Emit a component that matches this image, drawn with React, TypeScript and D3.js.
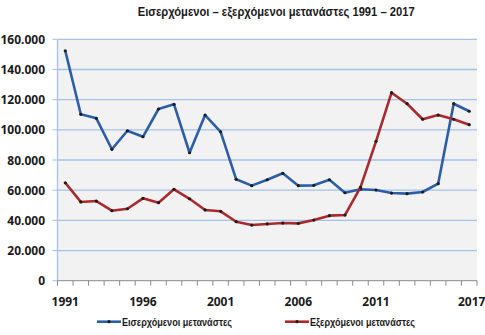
import React from "react";
import * as d3 from "d3";

const years: number[] = [1991,1992,1993,1994,1995,1996,1997,1998,1999,2000,2001,2002,2003,2004,2005,2006,2007,2008,2009,2010,2011,2012,2013,2014,2015,2016,2017];
const incoming: number[] = [152400,110300,107600,87100,99400,95400,113800,116900,84800,109800,98700,67200,63000,66900,71200,63000,63200,66900,58300,60600,60100,58100,57700,58800,64300,117300,112300];
const outgoing: number[] = [64900,52200,52800,46400,47700,54600,51700,60600,54300,46900,46000,39100,36900,37600,38200,38000,40200,43100,43500,61900,92400,124600,117300,107000,109800,107000,103400];
const yTicks: number[] = [0,20000,40000,60000,80000,100000,120000,140000,160000];
const xLabelYears: number[] = [1991,1996,2001,2006,2011,2017];
const title = "Εισερχόμενοι – εξερχόμενοι μετανάστες 1991 – 2017";
const seriesNames = ["Εισερχόμενοι μετανάστες", "Εξερχόμενοι μετανάστες"];

const W = 485, H = 335;
const left = 57.5, right = 477, top = 39.3, bottom = 280.7;
const BLUE = "#2C5DA8";
const RED = "#A82A2C";
const GRID = "#A3C2E8";
const FONT = "'Noto Sans', 'DejaVu Sans', sans-serif";
const GFONT = "'Liberation Sans', 'DejaVu Sans', sans-serif";

export default function App() {
  const x = d3.scaleBand<number>().domain(years).range([left, right]).padding(0);
  const y = d3.scaleLinear().domain([0, 160000]).range([bottom, top]);
  const cx = (yr: number) => (x(yr) as number) + x.bandwidth() / 2;
  const line = d3.line<number>().x((_, i) => cx(years[i])).y((d) => y(d));
  const fmt = (v: number) => (v === 0 ? "0" : d3.format(",")(v).replace(/,/g, "."));
  const series = [
    { name: seriesNames[0], data: incoming, color: BLUE, len: 110 },
    { name: seriesNames[1], data: outgoing, color: RED, len: 105 },
  ];
  const boundaries = years.map((yr) => x(yr) as number).concat([right]);
  const legendX = [97, 285];
  return (
    <svg width={W} height={H} style={{ position: "absolute", left: 0, top: 0, background: "#fff" }}>
      <text x={137.7} y={16} textLength={277} lengthAdjust="spacingAndGlyphs" fontFamily={GFONT} fontWeight="bold" fontSize={12.5} fill="#1a1a1a">{title}</text>
      <rect x={left} y={top} width={right - left} height={bottom - top} fill="#F2F2F2" />
      {yTicks.map((t) => (
        <g key={t}>
          {t > 0 && <line x1={left} x2={right} y1={y(t)} y2={y(t)} stroke={GRID} strokeWidth={1.3} />}
          <line x1={left - 5} x2={left} y1={y(t)} y2={y(t)} stroke={GRID} strokeWidth={1} />
          <text x={45} y={y(t) + 4.5} textAnchor="end" fontFamily={FONT} fontWeight={700} fontSize={12} fill="#1a1a1a">{fmt(t)}</text>
        </g>
      ))}
      <line x1={left} x2={left} y1={top} y2={bottom} stroke={GRID} strokeWidth={1.3} />
      <line x1={left} x2={right} y1={bottom} y2={bottom} stroke="#8a8a8a" strokeWidth={1} />
      {boundaries.map((b, i) => (
        <line key={i} x1={b} x2={b} y1={bottom} y2={bottom + 5} stroke="#8a8a8a" strokeWidth={1} />
      ))}
      {xLabelYears.map((yr) => (
        <text key={yr} x={cx(yr) + (yr === 2017 ? 2.5 : 0)} y={306} textAnchor="middle" fontFamily={FONT} fontWeight={700} fontSize={12} fill="#1a1a1a">{yr}</text>
      ))}
      {series.map((s) => (
        <g key={s.name}>
          <path d={line(s.data) || ""} fill="none" stroke={s.color} strokeWidth={2.6} strokeLinejoin="round" />
          {s.data.map((v, i) => (
            <circle key={i} cx={cx(years[i])} cy={y(v)} r={1.6} fill="#1c1c1c" />
          ))}
        </g>
      ))}
      {series.map((s, i) => (
        <g key={"lg" + i}>
          <line x1={legendX[i]} x2={legendX[i] + 24} y1={321.7} y2={321.7} stroke={s.color} strokeWidth={2.6} />
          <circle cx={legendX[i] + 12} cy={321.7} r={1.6} fill="#1c1c1c" />
          <text x={legendX[i] + 25} y={325.5} textLength={s.len} lengthAdjust="spacingAndGlyphs" fontFamily={GFONT} fontWeight="bold" fontSize={11} fill="#1a1a1a">{s.name}</text>
        </g>
      ))}
    </svg>
  );
}
